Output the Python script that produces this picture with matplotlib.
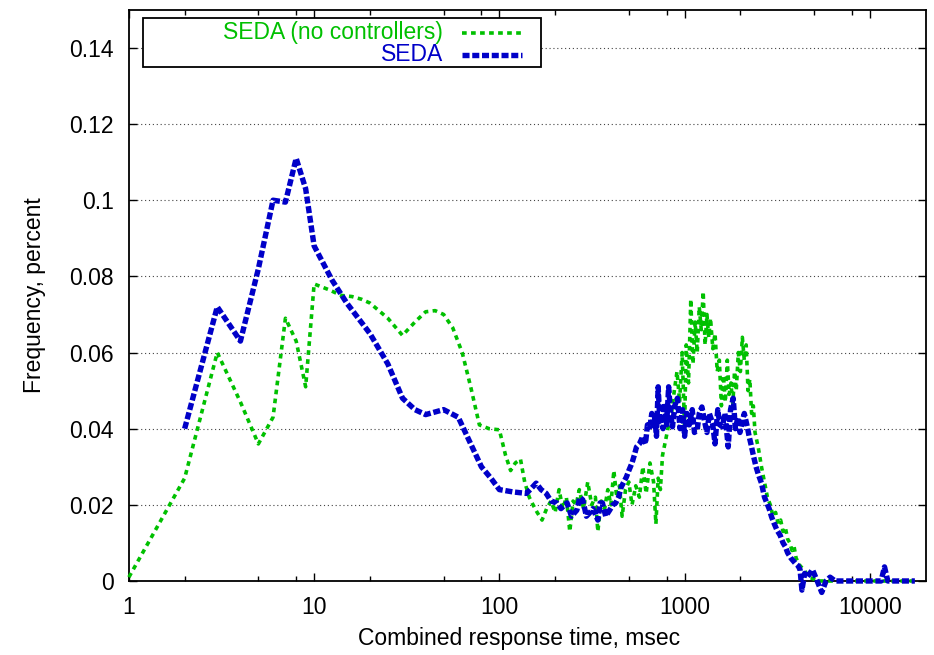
import matplotlib
matplotlib.use('Agg')
import matplotlib.pyplot as plt
from matplotlib.ticker import FixedLocator, FixedFormatter, NullFormatter, FormatStrFormatter
from matplotlib.patches import Rectangle

plt.rcParams['font.family'] = ['Liberation Sans', 'DejaVu Sans']

# SEDA (no controllers)
green_x = [1, 2, 3, 4, 5, 6, 7, 8, 9, 10, 12, 14, 16, 18, 20, 25, 30, 35, 40, 45,
           50, 56, 63, 70, 78, 88, 100, 108, 115, 122, 130, 137, 145, 152, 160, 170,
           180, 190, 200, 210, 220, 230, 240, 250, 260, 270, 285, 300, 315, 330, 340,
           355, 370, 385, 400, 415, 430, 445, 460, 480, 500, 520, 545, 570, 595, 620,
           650, 680, 700, 720, 740, 760, 790, 820, 850, 880, 910, 940, 970, 1000, 1020,
           1050, 1080, 1110, 1140, 1170, 1200, 1230, 1260, 1290, 1320, 1350, 1380, 1420,
           1460, 1500, 1540, 1580, 1620, 1660, 1700, 1740, 1780, 1820, 1860, 1900, 1950,
           2000, 2050, 2100, 2150, 2200, 2250, 2300, 2350, 2400, 2500, 2600, 2700, 2800,
           2900, 3000, 3100, 3200, 3300, 3400, 3500, 3600, 3700, 3800, 3900, 4000, 4200,
           4400, 4700, 5000, 5300, 6000, 7000, 8000, 9000, 10000, 12000, 14000, 16000, 17500]
green_y = [0.001, 0.027, 0.060, 0.047, 0.036, 0.043, 0.069, 0.063, 0.051, 0.078, 0.0765,
           0.075, 0.0747, 0.074, 0.073, 0.069, 0.0645, 0.068, 0.0707, 0.071, 0.070, 0.0665,
           0.060, 0.051, 0.041, 0.040, 0.0397, 0.033, 0.029, 0.031, 0.032, 0.026, 0.022,
           0.020, 0.018, 0.016, 0.019, 0.021, 0.018, 0.024, 0.019, 0.022, 0.013, 0.021,
           0.020, 0.024, 0.019, 0.026, 0.020, 0.022, 0.013, 0.021, 0.019, 0.024, 0.020,
           0.029, 0.022, 0.025, 0.017, 0.024, 0.026, 0.020, 0.025, 0.022, 0.030, 0.023,
           0.031, 0.026, 0.015, 0.027, 0.024, 0.033, 0.037, 0.041, 0.044, 0.050, 0.055,
           0.047, 0.060, 0.040, 0.062, 0.052, 0.074, 0.057, 0.068, 0.060, 0.072, 0.066,
           0.076, 0.062, 0.070, 0.064, 0.069, 0.061, 0.065, 0.055, 0.058, 0.046, 0.054,
           0.047, 0.058, 0.049, 0.052, 0.046, 0.055, 0.050, 0.060, 0.055, 0.064, 0.058,
           0.062, 0.050, 0.053, 0.044, 0.046, 0.039, 0.035, 0.030, 0.026, 0.022, 0.020,
           0.017, 0.018, 0.015, 0.016, 0.013, 0.014, 0.011, 0.010, 0.008, 0.009, 0.006,
           0.004, 0.003, 0.001, 0.0005, 0.0, 0.0, 0.0, 0.0, 0.0, 0.0, 0.0, 0.0, 0.0, 0.0]

# SEDA
blue_x = [2, 3, 4, 5, 6, 7, 8, 9, 10, 12.5, 15, 20, 25, 30, 35, 40, 50, 60, 70, 80, 90,
          100, 118, 140, 150, 158, 168, 179, 190, 204, 215, 232, 245, 262, 272, 282, 295,
          306, 320, 340, 350, 360, 375, 394, 410, 425, 440, 455, 470, 485, 500, 520, 535,
          550, 570, 595, 615, 630, 650, 665, 680, 690, 705, 720, 735, 750, 765, 780, 800,
          820, 840, 860, 885, 915, 945, 975, 1000, 1030, 1060, 1100, 1130, 1170, 1200,
          1240, 1280, 1320, 1360, 1415, 1460, 1510, 1550, 1600, 1650, 1720, 1770, 1830,
          1880, 1940, 1990, 2040, 2100, 2180, 2230, 2280, 2350, 2430, 2500, 2600, 2700,
          2780, 2860, 2950, 3050, 3150, 3280, 3400, 3500, 3600, 3750, 3950, 4100, 4200,
          4300, 4450, 4600, 4900, 5200, 5500, 5800, 6100, 6500, 7000, 8000, 9000, 10000,
          11500, 12000, 12500, 14000, 16000, 17500]
blue_y = [0.040, 0.072, 0.063, 0.082, 0.100, 0.0995, 0.111, 0.103, 0.088, 0.079, 0.073,
          0.065, 0.057, 0.048, 0.045, 0.0437, 0.045, 0.043, 0.036, 0.030, 0.027, 0.024,
          0.0234, 0.023, 0.0245, 0.0257, 0.024, 0.023, 0.021, 0.0205, 0.019, 0.0205,
          0.017, 0.0186, 0.022, 0.0213, 0.017, 0.0178, 0.019, 0.016, 0.0205, 0.0205,
          0.017, 0.0186, 0.020, 0.0205, 0.022, 0.0247, 0.026, 0.0273, 0.029, 0.031,
          0.033, 0.0352, 0.036, 0.038, 0.036, 0.041, 0.0405, 0.044, 0.040, 0.043, 0.038,
          0.051, 0.042, 0.043, 0.040, 0.0467, 0.041, 0.051, 0.044, 0.0405, 0.046, 0.048,
          0.040, 0.045, 0.038, 0.044, 0.041, 0.045, 0.039, 0.0397, 0.044, 0.0457, 0.042,
          0.039, 0.044, 0.0415, 0.036, 0.045, 0.041, 0.0405, 0.044, 0.0352, 0.045, 0.048,
          0.040, 0.043, 0.039, 0.0415, 0.044, 0.0405, 0.038, 0.036, 0.033, 0.030, 0.028,
          0.0257, 0.022, 0.0205, 0.019, 0.0168, 0.015, 0.0134, 0.012, 0.010, 0.009,
          0.0074, 0.006, 0.0047, 0.004, 0.003, -0.0024, 0.002, 0.001, 0.003, 0.0, -0.003,
          0.0, 0.001, 0.0, 0.0, 0.0, 0.0, 0.0, 0.0, 0.0037, 0.0, 0.0, 0.0, 0.0]

y_ticks = [0, 0.02, 0.04, 0.06, 0.08, 0.1, 0.12, 0.14]
x_ticks = [1, 10, 100, 1000, 10000]
x_labels = ['1', '10', '100', '1000', '10000']

green = '#00c000'
blue = '#0000c8'
green_style = dict(color=green, lw=2.6, dashes=(1.3, 1.2))
blue_style = dict(color=blue, lw=3.9, dashes=(1.3, 0.5))

fig = plt.figure(figsize=(9.34, 6.55), dpi=100)
ax = fig.add_axes([0.138, 0.113, 0.853, 0.872])

ax.plot(green_x, green_y, clip_on=False, zorder=3, **green_style)
ax.plot(blue_x, blue_y, clip_on=False, zorder=4, **blue_style)

ax.set_xscale('log')
ax.set_xlim(1, 20000)
ax.set_ylim(0, 0.15)

ax.xaxis.set_major_locator(FixedLocator(x_ticks))
ax.xaxis.set_major_formatter(FixedFormatter(x_labels))
minor = [m * d for d in [1, 10, 100, 1000] for m in (2, 5, 8)]
ax.xaxis.set_minor_locator(FixedLocator(minor))
ax.xaxis.set_minor_formatter(NullFormatter())
ax.yaxis.set_major_locator(FixedLocator(y_ticks))
ax.yaxis.set_major_formatter(FormatStrFormatter('%g'))

ax.tick_params(which='both', direction='in', top=True, right=True, labelsize=16.5, width=1)
ax.tick_params(which='major', length=6)
ax.tick_params(which='minor', length=3.5)
ax.tick_params(axis='y', pad=11)
ax.tick_params(axis='x', pad=11)

for s in ax.spines.values():
    s.set_linewidth(1.3)

ax.grid(axis='y', color='#444444', lw=0.8, ls=(0, (1, 2.5)))
ax.set_axisbelow(True)

ax.set_xlabel('Combined response time, msec', fontsize=16.5)
ax.set_ylabel('Frequency, percent', fontsize=16.5)
ax.xaxis.set_label_coords(0.49, -0.08)
ax.yaxis.set_label_coords(-0.104, 0.5)

# legend box like gnuplot's key
ax.add_patch(Rectangle((0.0176, 0.900), 0.4994, 0.086, transform=ax.transAxes,
                       facecolor='white', edgecolor='black', lw=1.3, zorder=5, clip_on=False))
ax.text(0.394, 0.960, 'SEDA (no controllers)', color=green, fontsize=16.5,
        ha='right', va='center', transform=ax.transAxes, zorder=6)
ax.text(0.394, 0.921, 'SEDA', color=blue, fontsize=16.5,
        ha='right', va='center', transform=ax.transAxes, zorder=6)
ax.plot([0.418, 0.494], [0.960, 0.960], transform=ax.transAxes, zorder=6,
        clip_on=False, **green_style)
ax.plot([0.418, 0.494], [0.921, 0.921], transform=ax.transAxes, zorder=6,
        clip_on=False, **blue_style)

fig.savefig('out.png', dpi=100)
